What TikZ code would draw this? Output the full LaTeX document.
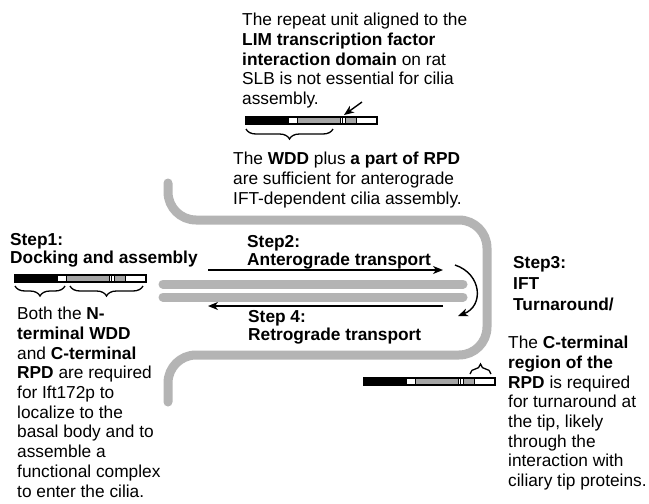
\documentclass[tikz,border=0pt]{standalone}
\usepackage{fontspec}
\setmainfont{Liberation Sans}
\usetikzlibrary{decorations.pathreplacing,arrows.meta}
\definecolor{ciliagray}{RGB}{180,180,180}
\definecolor{bargray}{RGB}{165,165,165}
\newcommand{\domainbar}[3]{%
  \begin{scope}[shift={(#2,#3)}]
    \coordinate (#1) at (0,0);
    \fill[black] (0,0) rectangle (42,7);
    \filldraw[fill=white,draw=black,line width=0.6pt] (42,0) rectangle (51,7);
    \filldraw[fill=bargray,draw=black,line width=0.6pt] (51,0) rectangle (94,7);
    \filldraw[fill=white,draw=black,line width=0.6pt] (94,0) rectangle (99,7);
    \draw[line width=0.8pt] (96.5,0) -- (96.5,7);
    \filldraw[fill=bargray,draw=black,line width=0.6pt] (99,0) rectangle (110,7);
    \filldraw[fill=white,draw=black,line width=0.6pt] (110,0) rectangle (131,7);
    \draw[line width=1.3pt] (0,0) rectangle (131,7);
  \end{scope}}
\begin{document}
\begin{tikzpicture}[x=1pt,y=-1pt,
  txt/.style={anchor=north west, inner sep=0pt, align=left, font=\fontsize{17.3}{19.7}\selectfont},
  steptxt/.style={anchor=north west, inner sep=0pt, align=left, font=\fontsize{17.3}{18.5}\selectfont\bfseries},
  cilium/.style={draw=ciliagray, line width=9pt, line cap=round, rounded corners=28pt},
  mtube/.style={draw=ciliagray, line width=9pt, line cap=round},
  flow/.style={draw=black, line width=1.4pt, -{Stealth[length=10pt,width=8pt,inset=3pt]}},
  bracedown/.style={decorate, decoration={brace, amplitude=10pt}, line width=1.3pt},
]
\useasboundingbox[fill=white] (0,0) rectangle (649,504);

% cilium outline
\draw[cilium] (168,183) -- (168,220) -- (487,220) -- (487,355) -- (168,355) -- (168,402);
% microtubules
\draw[mtube] (163,284) -- (463,284);
\draw[mtube] (163,297) -- (463,297);

% transport arrows
\coordinate (antS) at (208,270);
\coordinate (antE) at (443,270);
\draw[flow] (antS) -- (antE);
\coordinate (retS) at (443,306);
\coordinate (retE) at (208,306);
\draw[flow] (retS) -- (retE);
\coordinate (turnS) at (455,265);
\coordinate (turnE) at (458,316);
\draw[flow] (turnS) .. controls (482,274) and (484,306) .. (turnE);

% domain bars
\domainbar{topbar}{246}{117}
\domainbar{leftbar}{15}{275}
\domainbar{rightbar}{364}{378}

% small pointer arrow
\coordinate (ptrS) at (362,102);
\coordinate (ptrE) at (344,115);
\draw[flow] (ptrS) -- (ptrE);

% braces
\draw[bracedown] (333,129) -- (246,129);
\draw[bracedown] (65,286) -- (15,286);
\draw[bracedown] (143,286) -- (70,286);
\draw[bracedown] (470,374) -- (491,374);

% texts
\node[txt] (repeat) at (242,13) {The repeat unit aligned to the\\
  \textbf{LIM transcription factor}\\
  \textbf{interaction domain} on rat\\
  SLB is not essential for cilia\\
  assembly.};
\node[txt] (wdd) at (233,152) {The \textbf{WDD} plus \textbf{a part of RPD}\\
  are sufficient for anterograde\\
  IFT-dependent cilia assembly.};
\node[steptxt] (step1) at (10,233) {Step1:\\Docking and assembly};
\node[steptxt] (step2) at (247,235) {Step2:\\Anterograde transport};
\node[steptxt] (step4) at (248,310) {Step 4:\\Retrograde transport};
\node[steptxt, font=\fontsize{17.3}{21}\selectfont\bfseries] (step3) at (513,256) {Step3:\\IFT\\Turnaround/};
\node[txt] (both) at (17,307) {Both the \textbf{N-}\\
  \textbf{terminal WDD}\\
  and \textbf{C-terminal}\\
  \textbf{RPD} are required\\
  for Ift172p to\\
  localize to the\\
  basal body and to\\
  assemble a\\
  functional complex\\
  to enter the cilia.};
\node[txt] (cterm) at (508,336) {The \textbf{C-terminal}\\
  \textbf{region of the}\\
  \textbf{RPD} is required\\
  for turnaround at\\
  the tip, likely\\
  through the\\
  interaction with\\
  ciliary tip proteins.};
\end{tikzpicture}
\end{document}
